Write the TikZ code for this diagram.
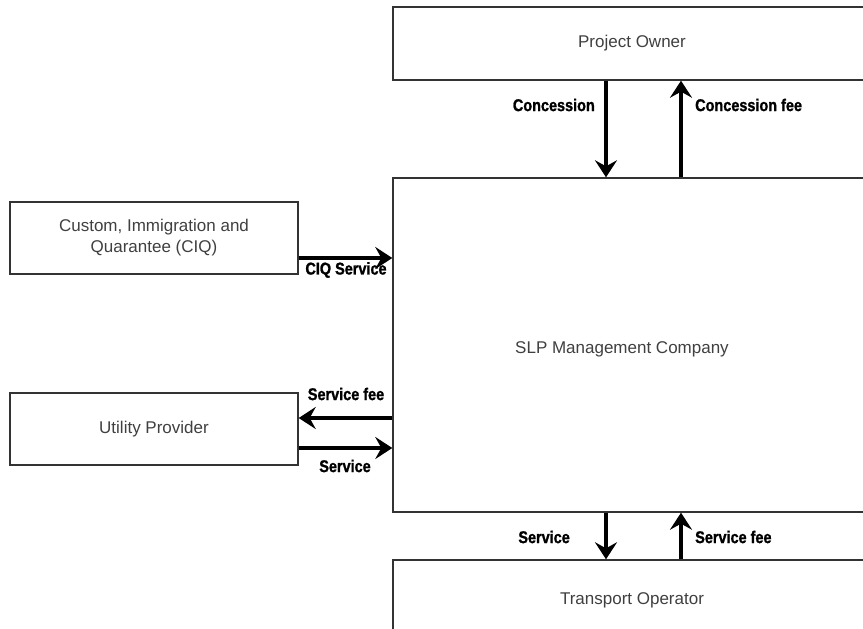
\documentclass[tikz,border=0pt]{standalone}
\usepackage{fontspec}
\setmainfont{Liberation Sans}
\newfontfamily\lblfont[FakeStretch=0.85,FakeBold=1.2]{Liberation Sans}
\usetikzlibrary{arrows.meta,calc}
\begin{document}
\begin{tikzpicture}[x=1pt,y=-1pt,
  box/.style={draw=black!80,line width=1.4pt,fill=white,rectangle,inner sep=0pt,
    font=\fontsize{17}{21}\selectfont,text=black!75,align=center},
  boxtext/.style={font=\fontsize{17}{23}\selectfont,text=black!75,align=center,inner sep=0pt},
  flow/.style={line width=4.5pt,-{Stealth[length=17pt,width=22pt,inset=6pt]}},
  tag/.style={font=\lblfont\bfseries\fontsize{17}{20}\selectfont,inner sep=0pt}]
\useasboundingbox (0,0) rectangle (863,629);
\clip (0,0) rectangle (863,629);
\fill[white] (0,0) rectangle (863,629);

% boxes
\node[box,minimum width=478pt,minimum height=73pt] (po) at (632,43.5) {Project Owner};
\node[box,minimum width=478pt,minimum height=334pt] (slp) at (632,345) {};
\node[boxtext] (slpt) at (622,349) {SLP Management Company};
\node[box,minimum width=288pt,minimum height=72pt] (ciq) at (154,238)
  {Custom, Immigration and\\Quarantee (CIQ)};
\node[box,minimum width=288pt,minimum height=72pt] (ut) at (154,429) {Utility Provider};
\node[box,minimum width=478pt,minimum height=80pt] (to) at (632,600) {Transport Operator};

% project owner <-> management company
\draw[flow] ($(po.south)+(-26,0)$) -- ($(slp.north)+(-26,0)$);
\draw[flow] ($(slp.north)+(49,0)$) -- ($(po.south)+(49,0)$);
\node[tag,anchor=east] (l1) at (595,105) {Concession};
\node[tag,anchor=west] (l2) at (695,105) {Concession fee};

% CIQ -> management company
\coordinate (c1) at ($(ciq.east)+(0,20)$);
\draw[flow] (c1) -- (c1 -| slp.west);
\node[tag] (l3) at (346,270) {CIQ Service};

% utility provider <-> management company
\coordinate (u1) at ($(ut.east)+(0,-11)$);
\coordinate (u2) at ($(ut.east)+(0,19)$);
\draw[flow] (u1 -| slp.west) -- (u1);
\draw[flow] (u2) -- (u2 -| slp.west);
\node[tag] (l4) at (346,394) {Service fee};
\node[tag] (l5) at (345,466) {Service};

% management company <-> transport operator
\draw[flow] ($(slp.south)+(-26,0)$) -- ($(to.north)+(-26,0)$);
\draw[flow] ($(to.north)+(49,0)$) -- ($(slp.south)+(49,0)$);
\node[tag,anchor=east] (l6) at (570,537) {Service};
\node[tag,anchor=west] (l7) at (695,537) {Service fee};
\end{tikzpicture}
\end{document}
